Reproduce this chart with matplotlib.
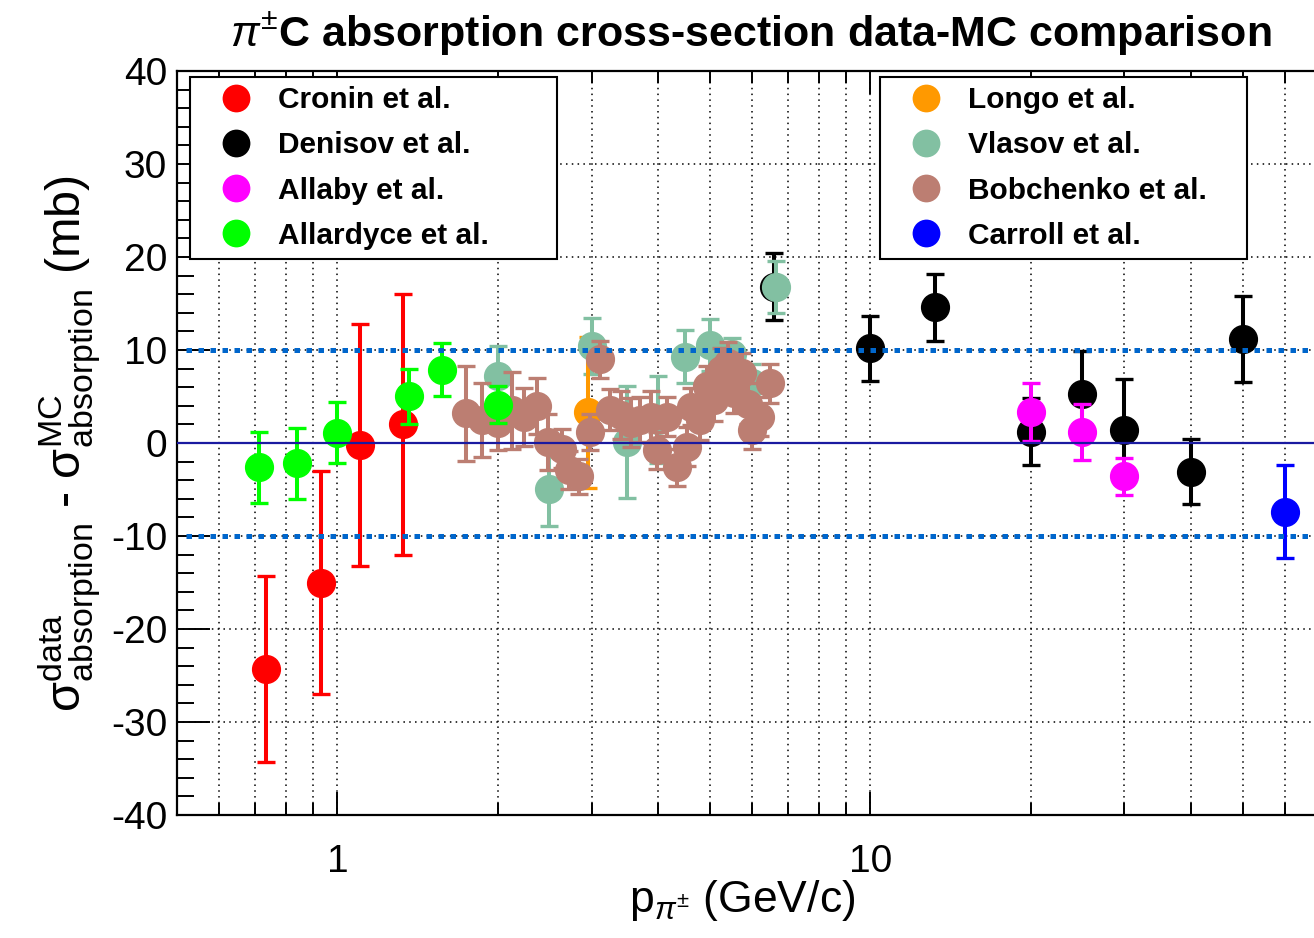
import numpy as np
import matplotlib
matplotlib.use("Agg")
import matplotlib.pyplot as plt
from matplotlib.lines import Line2D
from matplotlib.ticker import FixedLocator, NullFormatter, MultipleLocator

plt.rcParams['font.family'] = ['Liberation Sans', 'DejaVu Sans']
plt.rcParams['mathtext.fontset'] = 'custom'
plt.rcParams['mathtext.rm'] = 'Liberation Sans'
plt.rcParams['mathtext.it'] = 'Liberation Sans:italic'
plt.rcParams['mathtext.bf'] = 'Liberation Sans:bold'
plt.rcParams['axes.unicode_minus'] = False

# data - MC differences (mb) vs pion momentum (GeV/c), symmetric errors
cronin_p = [0.735, 0.93, 1.105, 1.33]
cronin_d = [-24.3, -15.0, -0.2, 2.0]
cronin_e = [10.0, 12.0, 13.0, 14.0]

denisov_p = [6.6, 10.0, 13.24, 20.0, 25.0, 30.0, 40.0, 50.0]
denisov_d = [16.8, 10.2, 14.6, 1.2, 5.3, 1.4, -3.1, 11.2]
denisov_e = [3.6, 3.5, 3.6, 3.6, 4.6, 5.5, 3.5, 4.6]

allaby_p = [20.0, 25.0, 30.0]
allaby_d = [3.3, 1.2, -3.6]
allaby_e = [3.1, 3.0, 2.0]

allardyce_p = [0.714, 0.84, 1.0, 1.36, 1.57, 2.0]
allardyce_d = [-2.6, -2.2, 1.1, 5.0, 7.9, 4.1]
allardyce_e = [3.8, 3.8, 3.3, 3.0, 2.9, 2.0]

longo_p = [2.96]
longo_d = [3.3]
longo_e = [8.1]

vlasov_p = [2.0, 2.5, 3.0, 3.5, 4.0, 4.5, 5.0, 5.5, 6.0, 6.65]
vlasov_d = [7.2, -4.9, 10.4, 0.1, 2.5, 9.3, 10.5, 9.6, 6.5, 16.8]
vlasov_e = [3.2, 4.0, 3.0, 6.0, 4.7, 2.9, 2.8, 1.7, 2.0, 2.8]

bobchenko_p = [1.74, 1.87, 2.00, 2.13, 2.24, 2.37, 2.49, 2.64, 2.72, 2.84,
               2.98, 3.11, 3.25, 3.40, 3.55, 3.70, 3.87, 3.98, 4.15, 4.34,
               4.53, 4.60, 4.80, 4.93, 5.10, 5.25, 5.40, 5.54, 5.75, 5.90,
               6.00, 6.20, 6.49]
bobchenko_d = [3.2, 2.5, 2.1, 3.5, 2.8, 4.0, 0.1, -0.6, -2.9, -3.6,
               1.2, 9.0, 3.6, 3.0, 2.2, 2.5, 2.8, -0.8, 2.8, -2.6,
               -0.4, 3.9, 2.5, 6.1, 4.6, 7.9, 8.6, 5.4, 7.5, 4.2,
               1.4, 2.8, 6.4]
bobchenko_e = [5.1, 4.0, 2.9, 4.1, 3.1, 3.0, 3.0, 2.1, 2.0, 1.9,
               1.9, 2.0, 2.2, 2.6, 2.6, 2.4, 2.8, 2.0, 2.1, 2.0,
               2.1, 2.0, 2.2, 2.2, 2.2, 2.3, 2.3, 2.2, 2.2, 2.2,
               2.0, 2.1, 2.1]

carroll_p = [60.0]
carroll_d = [-7.4]
carroll_e = [5.0]

W, H = 1314, 938
fig = plt.figure(figsize=(W / 100, H / 100), dpi=100)
ax = fig.add_axes([177 / W, 123 / H, (1403 - 177) / W, 744 / H])

ax.set_xscale('log')
ax.set_xlim(0.5, 100)
ax.set_ylim(-40, 40)

ms = 20
ebkw = dict(fmt='o', ms=ms, elinewidth=2.9, capsize=6.5, capthick=2.4)

series = [
    (denisov_p, denisov_d, denisov_e, 'black'),
    (cronin_p, cronin_d, cronin_e, '#ff0000'),
    (vlasov_p, vlasov_d, vlasov_e, '#82c0a2'),
    (longo_p, longo_d, longo_e, '#ff9900'),
    (bobchenko_p, bobchenko_d, bobchenko_e, '#bc7e72'),
    (allardyce_p, allardyce_d, allardyce_e, '#00ff00'),
    (allaby_p, allaby_d, allaby_e, '#ff00ff'),
    (carroll_p, carroll_d, carroll_e, '#0000ff'),
]
for i, (p, d, e, c) in enumerate(series):
    ax.errorbar(p, d, yerr=e, color=c, ecolor=c, mec=c, zorder=3 + i * 0.1,
                **ebkw)

# reference lines
ax.axhline(0, color='#1a1aa0', lw=1.6, zorder=5)
for lvl in (10, -10):
    ax.plot([0.52, 100], [lvl, lvl], color='#0066cc', lw=3.6,
            ls=(0, (1.1, 1.3)), zorder=5)

# axes / ticks
ax.xaxis.set_major_locator(FixedLocator([1, 10, 100]))
ax.set_xticklabels(['1', '10', ''])
minor_x = [m * 10.0 ** k for k in (-1, 0, 1) for m in range(2, 10)]
ax.xaxis.set_minor_locator(FixedLocator([v for v in minor_x if v >= 0.5]))
ax.xaxis.set_minor_formatter(NullFormatter())
ax.yaxis.set_major_locator(MultipleLocator(10))
ax.yaxis.set_minor_locator(MultipleLocator(2))

ax.tick_params(which='both', direction='in', top=True, right=True,
               width=1.4, colors='black', labelsize=28)
ax.tick_params(axis='y', which='major', length=24, pad=7)
ax.tick_params(axis='y', which='minor', length=12)
ax.tick_params(axis='x', which='major', length=16.5, pad=21)
ax.tick_params(axis='x', which='minor', length=8.5)
for s in ax.spines.values():
    s.set_linewidth(1.6)

grid_ls = (0, (1, 2.8))
ax.grid(True, which='both', axis='x', color='black', lw=1.1, ls=grid_ls)
ax.grid(True, which='major', axis='y', color='black', lw=1.1, ls=grid_ls)
ax.set_axisbelow(True)

fig.text(751 / W, 1 - 34 / H,
         r'$\pi^{\pm}$C absorption cross-section data-MC comparison',
         ha='center', va='center', fontsize=31, fontweight='bold')
fig.text(742 / W, 1 - 900 / H, r'p$_{\pi^{\pm}}$ (GeV/c)',
         ha='center', va='center', fontsize=32)
fig.text(70 / W, 1 - 443 / H,
         r'$\mathrm{σ}^{\mathrm{data}}_{\mathrm{absorption}}$ - '
         r'$\mathrm{σ}^{\mathrm{MC}}_{\mathrm{absorption}}$ (mb)',
         ha='center', va='center', rotation=90, fontsize=35)

# legends
def make_handles(colors):
    return [Line2D([], [], marker='o', ls='none', color=c, mew=0, ms=ms)
            for c in colors]

legkw = dict(loc='upper left', mode='expand', borderaxespad=0,
             bbox_transform=fig.transFigure, fancybox=False, framealpha=1,
             edgecolor='black', borderpad=0.3, handlelength=2.45,
             handletextpad=0.2, labelspacing=0.58,
             prop={'weight': 'bold', 'size': 21.5})
leg1 = ax.legend(make_handles(['#ff0000', 'black', '#ff00ff', '#00ff00']),
                 ['Cronin et al.', 'Denisov et al.', 'Allaby et al.',
                  'Allardyce et al.'],
                 bbox_to_anchor=(190 / W, 1 - 77 / H - 0.01, 367 / W, 0.01),
                 **legkw)
leg1.get_frame().set_linewidth(1.5)
ax.add_artist(leg1)
leg2 = ax.legend(make_handles(['#ff9900', '#82c0a2', '#bc7e72', '#0000ff']),
                 ['Longo et al.', 'Vlasov et al.', 'Bobchenko et al.',
                  'Carroll et al.'],
                 bbox_to_anchor=(880 / W, 1 - 77 / H - 0.01, 367 / W, 0.01),
                 **legkw)
leg2.get_frame().set_linewidth(1.5)
leg1.set_zorder(10)
leg2.set_zorder(10)

fig.savefig('out.png', dpi=100)
